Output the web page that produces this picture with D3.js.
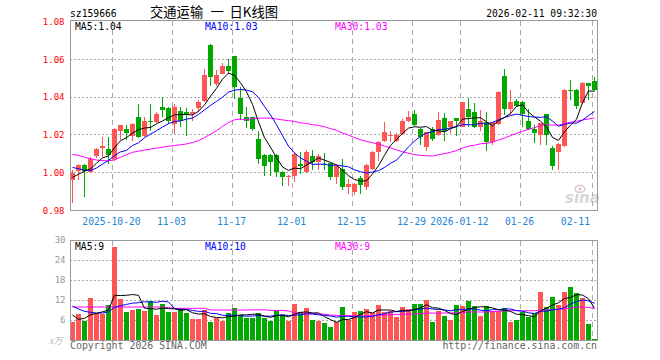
<!DOCTYPE html>
<html>
<head>
<meta charset="utf-8">
<script src="https://cdn.jsdelivr.net/npm/d3@7"></script>
<style>
body { margin: 0; background: #fff; }
text { font-family: "DejaVu Sans Mono", monospace; }
</style>
</head>
<body>
<svg width="660" height="360"></svg>
<script>
// trading days shown (month -> day numbers)
var tradeDays = [
  ["2025-10", [9,10,13,14,15,16,17,20,21,22,23,24,27,28,29,30,31]],
  ["2025-11", [3,4,5,6,7,10,11,12,13,14,17,18,19,20,21,24,25,26,27,28]],
  ["2025-12", [1,2,3,4,5,8,9,10,11,12,15,16,17,18,19,22,23,24,25,26,29,30,31]],
  ["2026-01", [5,6,7,8,9,12,13,14,15,16,19,20,21,22,23,26,27,28,29,30]],
  ["2026-02", [2,3,4,5,6,9,10,11]]
];

var opens = [0.9963,1.0008,1.0043,1.0006,1.0086,1.0130,1.0128,1.0071,1.0220,1.0229,
1.0192,1.0297,1.0192,1.0273,1.0269,1.0350,1.0340,1.0259,1.0329,1.0319,
1.0308,1.0343,1.0378,1.0678,1.0467,1.0523,1.0562,1.0615,1.0393,1.0297,
1.0294,1.0176,1.0096,1.0096,1.0096,1.0006,0.9976,0.9985,1.0047,1.0006,
1.0086,1.0056,1.0047,1.0050,0.9976,1.0017,0.9923,0.9897,0.9973,0.9923,
1.0017,1.0108,1.0170,1.0195,1.0170,1.0206,1.0271,1.0308,1.0232,1.0135,
1.0232,1.0197,1.0290,1.0241,1.0290,1.0244,1.0338,1.0320,1.0241,1.0267,
1.0161,1.0259,1.0514,1.0338,1.0382,1.0373,1.0271,1.0232,1.0197,1.0308,
1.0130,1.0108,1.0139,1.0440,1.0440,1.0368,1.0474,1.0484];

var highs = [1.0012,1.0045,1.0045,1.0082,1.0130,1.0188,1.0188,1.0235,1.0255,1.0251,
1.0262,1.0361,1.0297,1.0361,1.0319,1.0403,1.0350,1.0361,1.0350,1.0340,
1.0336,1.0386,1.0548,1.0680,1.0544,1.0583,1.0604,1.0617,1.0452,1.0350,
1.0296,1.0222,1.0098,1.0098,1.0098,1.0008,0.9987,1.0108,1.0108,1.0121,
1.0121,1.0100,1.0105,1.0052,1.0040,1.0074,0.9968,0.9945,0.9985,1.0045,
1.0117,1.0170,1.0267,1.0223,1.0209,1.0285,1.0329,1.0334,1.0235,1.0216,
1.0241,1.0320,1.0317,1.0275,1.0292,1.0375,1.0394,1.0368,1.0333,1.0320,
1.0270,1.0430,1.0550,1.0435,1.0391,1.0382,1.0338,1.0250,1.0265,1.0310,
1.0140,1.0155,1.0445,1.0493,1.0445,1.0478,1.0476,1.0505];

var lows = [0.9839,0.9959,0.9870,0.9997,1.0080,1.0082,1.0047,1.0060,1.0174,1.0174,
1.0170,1.0185,1.0188,1.0220,1.0265,1.0297,1.0260,1.0206,1.0244,1.0195,
1.0276,1.0319,1.0375,1.0460,1.0460,1.0520,1.0523,1.0389,1.0280,1.0238,
1.0223,1.0047,0.9985,0.9980,0.9976,0.9927,0.9927,0.9950,0.9994,1.0000,
1.0015,1.0012,1.0015,0.9959,0.9941,0.9906,0.9888,0.9883,0.9885,0.9911,
1.0015,1.0061,1.0165,1.0161,1.0165,1.0200,1.0268,1.0248,1.0149,1.0117,
1.0170,1.0195,1.0170,1.0209,1.0193,1.0240,1.0241,1.0238,1.0223,1.0114,
1.0149,1.0255,1.0303,1.0303,1.0348,1.0244,1.0228,1.0156,1.0144,1.0144,
1.0015,1.0012,1.0135,1.0386,1.0338,1.0365,1.0386,1.0430];

var closes = [1.0000,1.0043,1.0010,1.0071,1.0128,1.0139,1.0096,1.0230,1.0251,1.0211,
1.0259,1.0188,1.0273,1.0266,1.0308,1.0333,1.0276,1.0347,1.0276,1.0308,
1.0319,1.0375,1.0516,1.0505,1.0516,1.0562,1.0537,1.0456,1.0308,1.0276,
1.0230,1.0074,1.0038,1.0056,1.0006,0.9976,0.9985,1.0100,1.0037,1.0108,
1.0059,1.0086,1.0043,0.9976,1.0038,0.9923,0.9941,0.9941,0.9936,1.0043,
1.0107,1.0160,1.0214,1.0200,1.0197,1.0271,1.0297,1.0250,1.0188,1.0214,
1.0176,1.0280,1.0223,1.0271,1.0271,1.0373,1.0294,1.0241,1.0276,1.0161,
1.0267,1.0426,1.0338,1.0373,1.0352,1.0308,1.0232,1.0209,1.0262,1.0197,
1.0033,1.0153,1.0440,1.0435,1.0352,1.0474,1.0461,1.0435];

// volume, 万
var volumes = [5.5,7.8,5.8,12.7,8.0,7.9,10.5,28.0,12.3,8.4,
9.0,9.3,8.7,11.7,7.5,10.8,8.4,8.4,9.7,8.1,
6.3,6.3,9.0,5.5,6.7,5.8,8.1,9.6,7.5,6.7,
6.7,8.1,6.7,5.8,9.0,7.5,5.8,10.8,8.4,9.6,
6.0,5.8,5.2,4.0,5.5,10.0,6.0,8.4,8.8,9.3,
8.0,10.5,8.4,8.8,7.0,10.0,9.3,10.8,10.8,12.0,
5.5,8.8,7.3,6.0,10.5,10.2,11.7,10.2,7.3,10.2,
8.8,8.8,9.6,5.5,6.0,8.3,7.0,8.0,14.4,10.0,
13.0,10.5,14.4,15.9,14.1,12.6,4.8,0.3];

var ma5Head = [0.9975,0.9992,1.0008,1.0020];
var ma10Head = [1.0028,1.0021,1.0013,1.0012,1.0025,1.0045,1.0065,1.0090,1.0110];
var ma30Head = [1.0096,1.0092,1.0082,1.0074,1.0067,1.0064,1.0063,1.0068,1.0082,1.0095,
1.0108,1.0114,1.0120,1.0125,1.0130,1.0135,1.0140,1.0144,1.0148,1.0152,
1.0160,1.0170,1.0186,1.0204,1.0222,1.0245,1.0265,1.0280,1.0284];
var volMa5Head = [7.5,6.2,6.5,7.6];
var volMa10Head = [10.2,9.3,8.6,8.3,8.1,8.1,8.4,9.8,10.3];
var volMa30Head = [9.9,9.9,9.9,9.9,9.9,9.9,9.9,9.9,9.9,9.9,
9.9,9.9,9.9,9.9,9.9,9.9,9.7,9.5,9.5,9.5,
9.5,9.5,9.5,9.0,9.0,9.0,9.0,9.0,9.0];

var tickDates = ["2025-10-20","2025-11-03","2025-11-17","2025-12-01","2025-12-15","2025-12-29","2026-01-12","2026-01-26","2026-02-11"];
var tickLabels = ["2025-10-20","11-03","11-17","12-01","12-15","12-29","2026-01-12","01-26","02-11"];
var priceTicks = [0.98, 1.00, 1.02, 1.04, 1.06, 1.08];
var volTicks = [6, 12, 18, 24, 30];
var priceLegend = ["MA5:1.04", "MA10:1.03", "MA30:1.03"];
var volLegend = ["MA5:9", "MA10:10", "MA30:9"];
var maColors = ["#000000", "#0000ff", "#ff00ff"];

var dates = [];
tradeDays.forEach(function(m) {
  m[1].forEach(function(d) { dates.push(m[0] + "-" + (d < 10 ? "0" : "") + d); });
});

var svg = d3.select("svg");
var left = 70, right = 598;

var x = d3.scaleBand().domain(dates).range([left, right]);
var y = d3.scaleLinear().domain([0.98, 1.08]).range([210.5, 21.5]);
var yv = d3.scaleLinear().domain([0, 30]).range([340, 240]);

function movingAvg(values, n, head) {
  return values.map(function(v, i) {
    if (i < n - 1) return head[i];
    return d3.mean(values.slice(i - n + 1, i + 1));
  });
}

function isUp(i) { return closes[i] >= opens[i]; }
function candleColor(i) { return isUp(i) ? "#ff5555" : "#00a800"; }
function cx(i) { return x(dates[i]) + 2.5; }

// header
svg.append("text").attr("x", 70).attr("y", 16.5).style("font-size", "9.7px").text("sz159666");
var title = svg.append("text").attr("y", 16.5)
  .style("font-family", "'Noto Sans CJK SC', sans-serif").style("font-size", "13.3px");
title.append("tspan").attr("x", 150).text("交通运输");
title.append("tspan").attr("x", 210.5).text("一");
title.append("tspan").attr("x", 229.5).text("日K线图");
svg.append("text").attr("x", 597).attr("y", 16.5).attr("text-anchor", "end")
  .style("font-size", "9.7px").text("2026-02-11 09:32:30");

// grid lines
var grid = svg.append("g").attr("stroke", "#aaa").attr("stroke-width", 1).attr("fill", "none");
priceTicks.slice(1, 5).forEach(function(t) {
  var yy = Math.floor(y(t)) + 0.5;
  grid.append("line").attr("x1", left).attr("x2", right).attr("y1", yy).attr("y2", yy)
    .attr("stroke-dasharray", "2,2");
});
volTicks.slice(0, 4).forEach(function(t) {
  var yy = Math.floor(yv(t)) + 0.5;
  grid.append("line").attr("x1", left).attr("x2", right).attr("y1", yy).attr("y2", yy)
    .attr("stroke-dasharray", "2,2");
});
tickDates.forEach(function(d) {
  var xx = x(d) + 0.5;
  grid.append("line").attr("x1", xx).attr("x2", xx).attr("y1", 21).attr("y2", 210)
    .attr("stroke-dasharray", "5,4");
  grid.append("line").attr("x1", xx).attr("x2", xx).attr("y1", 241).attr("y2", 340)
    .attr("stroke-dasharray", "5,4");
});

// sina watermark
var wm = svg.append("g").attr("opacity", 0.6);
wm.append("ellipse").attr("cx", 580).attr("cy", 189).attr("rx", 5).attr("ry", 3.5)
  .attr("fill", "none").attr("stroke", "#d9a0a0").attr("stroke-width", 1.5);
wm.append("circle").attr("cx", 580).attr("cy", 189).attr("r", 1.5).attr("fill", "#c8a0a0");
wm.append("text").attr("x", 565).attr("y", 203)
  .style("font-family", "'DejaVu Sans', sans-serif").style("font-size", "15px")
  .style("font-weight", "bold").style("font-style", "italic").attr("fill", "#bbb").text("sina");

// candles
var idx = d3.range(dates.length);
var candles = svg.append("g").attr("shape-rendering", "crispEdges");
candles.selectAll(".wick").data(idx).enter().append("line")
  .attr("class", "wick")
  .attr("x1", cx).attr("x2", cx)
  .attr("y1", function(i) { return y(highs[i]); })
  .attr("y2", function(i) { return y(lows[i]); })
  .attr("stroke", candleColor);
candles.selectAll(".body").data(idx).enter().append("rect")
  .attr("class", "body")
  .attr("x", function(i) { return x(dates[i]); })
  .attr("width", x.bandwidth() - 1)
  .attr("y", function(i) { return y(Math.max(opens[i], closes[i])); })
  .attr("height", function(i) { return Math.max(1, Math.abs(y(opens[i]) - y(closes[i]))); })
  .attr("fill", candleColor);

// volume bars
svg.append("g").attr("shape-rendering", "crispEdges")
  .selectAll("rect").data(idx).enter().append("rect")
  .attr("x", function(i) { return x(dates[i]); })
  .attr("width", x.bandwidth() - 1)
  .attr("y", function(i) { return yv(volumes[i]); })
  .attr("height", function(i) { return 340 - yv(volumes[i]); })
  .attr("fill", candleColor);

// moving average lines
var priceMas = [movingAvg(closes, 5, ma5Head), movingAvg(closes, 10, ma10Head), movingAvg(closes, 30, ma30Head)];
var volMas = [movingAvg(volumes, 5, volMa5Head), movingAvg(volumes, 10, volMa10Head), movingAvg(volumes, 30, volMa30Head)];

var priceLine = d3.line().x(function(d, i) { return cx(i); }).y(function(d) { return y(d); });
var volLine = d3.line().x(function(d, i) { return cx(i); }).y(function(d) { return yv(d); });

[2, 1, 0].forEach(function(k) {
  svg.append("path").attr("d", priceLine(priceMas[k]))
    .attr("fill", "none").attr("stroke", maColors[k]).attr("stroke-width", 1);
  svg.append("path").attr("d", volLine(volMas[k]))
    .attr("fill", "none").attr("stroke", maColors[k]).attr("stroke-width", 1);
});

// panel frames
svg.append("rect").attr("x", 70.5).attr("y", 20.5).attr("width", 527).attr("height", 190)
  .attr("fill", "none").attr("stroke", "#999");
svg.append("rect").attr("x", 70.5).attr("y", 240.5).attr("width", 527).attr("height", 100)
  .attr("fill", "none").attr("stroke", "#999");

// legends
var legendX = [75, 205, 335];
priceLegend.forEach(function(t, k) {
  svg.append("text").attr("x", legendX[k]).attr("y", 29.5).attr("fill", maColors[k])
    .style("font-size", "9.7px").text(t);
});
volLegend.forEach(function(t, k) {
  svg.append("text").attr("x", legendX[k]).attr("y", 250).attr("fill", maColors[k])
    .style("font-size", "9.7px").text(t);
});

// price axis labels
svg.append("g").selectAll("text").data(priceTicks).enter().append("text")
  .attr("x", 64.5).attr("y", function(d) { return y(d); }).attr("dy", "0.36em")
  .attr("text-anchor", "end").attr("fill", "#ff0000").style("font-size", "9px")
  .text(function(d) { return d.toFixed(2); });

// volume axis labels
svg.append("g").selectAll("text").data(volTicks).enter().append("text")
  .attr("x", 65.5).attr("y", function(d) { return yv(d); }).attr("dy", "0.36em")
  .attr("text-anchor", "end").attr("fill", "#999").style("font-size", "9px")
  .text(function(d) { return d; });
svg.append("text").attr("x", 49).attr("y", 344).attr("fill", "#bbb")
  .style("font-family", "'Noto Sans CJK SC', sans-serif").style("font-size", "9px")
  .style("font-style", "italic").text("x万");

// date labels, last one pulled back inside the frame
tickDates.forEach(function(d, k) {
  var t = svg.append("text").attr("y", 224.5).attr("fill", "#1a86d6")
    .style("font-size", "9.7px").attr("text-anchor", "middle").text(tickLabels[k]);
  var xx = x(d) - 0.5;
  var half = t.node().getComputedTextLength() / 2;
  if (xx + half > 590) xx = 590 - half;
  t.attr("x", xx);
});

// footer
svg.append("text").attr("x", 70).attr("y", 349).attr("fill", "#666")
  .style("font-size", "9.9px").text("Copyright 2026 SINA.COM");
svg.append("text").attr("x", 597).attr("y", 349).attr("fill", "#666").attr("text-anchor", "end")
  .style("font-size", "9.9px").text("http://finance.sina.com.cn");
</script>
</body>
</html>
